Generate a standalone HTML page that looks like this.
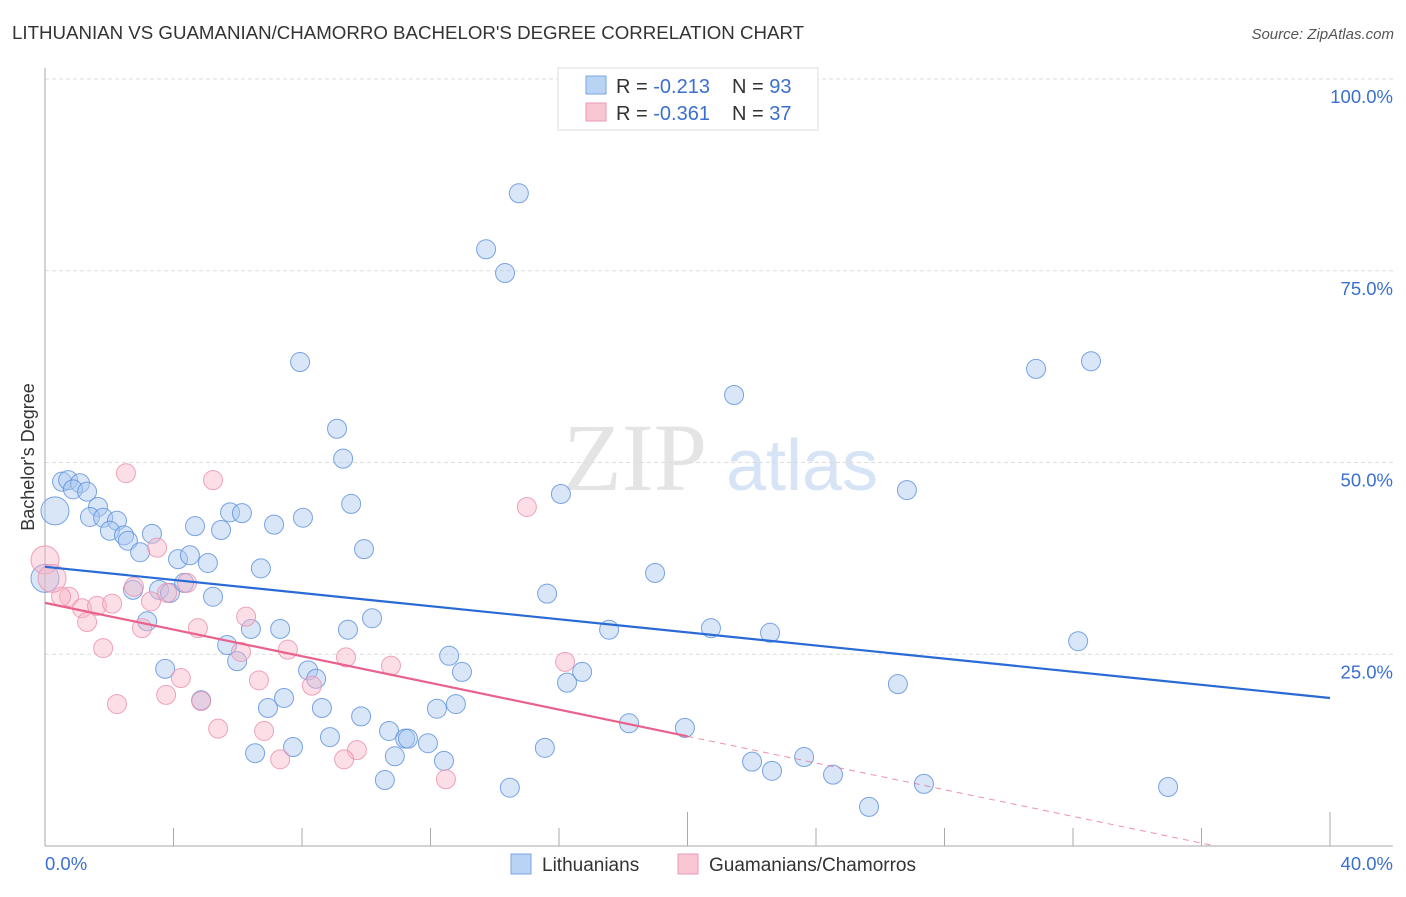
<!DOCTYPE html>
<html><head><meta charset="utf-8"><style>
body{margin:0;background:#fff;font-family:"Liberation Sans",sans-serif;}
svg text{font-family:"Liberation Sans",sans-serif;}
</style></head><body>
<svg id="chart" width="1406" height="892" xmlns="http://www.w3.org/2000/svg">
<text x="12" y="39" font-size="18.7" fill="#333">LITHUANIAN VS GUAMANIAN/CHAMORRO BACHELOR'S DEGREE CORRELATION CHART</text>
<text x="1394" y="39" font-size="15" fill="#555" font-style="italic" text-anchor="end">Source: ZipAtlas.com</text>
<text transform="translate(34,457) rotate(-90)" font-size="18" fill="#333" text-anchor="middle">Bachelor's Degree</text>
<g>
<text x="635" y="490" font-size="96" fill="#e4e4e4" font-family="Liberation Serif" text-anchor="middle" style="font-family:'Liberation Serif',serif">ZIP</text>
<text x="802" y="490" font-size="72" fill="#d6e4f5" text-anchor="middle">atlas</text>
</g>
<g id="grid"></g>
<g id="axes"></g>
<g id="pts"></g>
<g id="trend"></g>
<g>
<rect x="558" y="68" width="260" height="62" fill="#fff" stroke="#ddd"/>
<rect x="586" y="76" width="20" height="18" fill="#b9d3f5" stroke="#7aa5e0"/>
<text x="616" y="93" font-size="20" fill="#333">R = <tspan fill="#3a6fd0">-0.213</tspan></text>
<text x="732" y="93" font-size="20" fill="#333">N = <tspan fill="#3a6fd0">93</tspan></text>
<rect x="586" y="103" width="20" height="18" fill="#f9c6d4" stroke="#ee9ab2"/>
<text x="616" y="120" font-size="20" fill="#333">R = <tspan fill="#3a6fd0">-0.361</tspan></text>
<text x="732" y="120" font-size="20" fill="#333">N = <tspan fill="#3a6fd0">37</tspan></text>
</g>
<g>
<rect x="511" y="854" width="20" height="20" fill="#b9d3f5" stroke="#7aa5e0"/>
<text x="542" y="871" font-size="19" fill="#333">Lithuanians</text>
<rect x="678" y="854" width="20" height="20" fill="#f9c6d4" stroke="#ee9ab2"/>
<text x="709" y="871" font-size="19" fill="#333">Guamanians/Chamorros</text>
</g>
</svg>
<script>
const blueX=[14.75,13.73,14.32,7.94,32.56,30.85,21.45,9.09,9.28,16.06,26.83,9.53,0.53,0.72,1.09,0.87,1.31,0.31,1.65,1.40,1.81,2.24,2.02,2.46,2.58,2.96,3.33,4.67,5.48,5.76,6.13,7.13,8.03,9.93,4.14,4.51,5.07,6.72,18.99,15.63,2.74,3.55,3.89,4.33,5.23,10.18,3.18,6.41,7.32,9.43,17.56,20.73,22.57,32.16,5.67,5.98,3.74,8.19,8.44,12.58,12.98,16.72,16.25,26.55,4.86,7.44,6.94,8.62,12.79,12.20,9.84,18.18,19.92,10.71,11.21,11.30,11.92,8.87,7.72,6.54,15.56,12.42,10.89,23.63,22.01,22.63,24.53,10.58,27.36,34.96,14.47,25.65,0];
const blueY=[85.1,77.8,74.7,63.1,63.2,62.2,58.8,54.4,50.5,45.9,46.4,44.6,47.5,47.7,47.3,46.5,46.2,43.7,44.2,42.9,42.8,42.4,41.1,40.5,39.8,38.3,40.7,41.7,41.2,43.5,43.4,41.9,42.8,38.7,37.4,37.9,36.9,36.2,35.6,32.9,33.4,33.4,33.0,34.3,32.5,29.7,29.3,28.3,28.3,28.2,28.2,28.4,27.8,26.7,26.2,24.1,23.1,22.9,21.8,24.8,22.7,22.7,21.3,21.1,19.0,19.3,18.0,18.0,18.5,17.9,16.9,16.0,15.4,15.0,14.0,14.0,13.4,14.2,12.9,12.1,12.8,11.1,11.7,11.6,11.0,9.8,9.3,8.6,8.1,7.7,7.6,5.1,34.9];
const blueBig=[17,92];
const pinkX=[2.52,5.23,15.0,0,3.49,2.77,4.42,0.75,0.5,1.15,1.62,2.09,3.30,3.80,1.31,3.02,6.26,4.76,1.81,6.10,7.56,9.37,10.77,16.19,4.23,6.66,8.31,3.77,4.86,2.24,5.39,6.82,9.71,7.32,9.31,12.48,0.22];
const pinkY=[48.6,47.7,44.2,37.3,38.9,33.8,34.3,32.5,32.5,31.0,31.3,31.6,31.9,33.0,29.2,28.4,29.9,28.4,25.8,25.3,25.6,24.6,23.5,24.0,21.9,21.6,20.9,19.7,18.9,18.5,15.3,15.0,12.5,11.3,11.3,8.7,34.9];
const pinkBig=[3,36];
const blueTrend=[36.4,19.3];
const pinkTrend=[31.7,-0.87];
const yTicks=[25,50,75,100];
const yTickLabels=["25.0%","50.0%","75.0%","100.0%"];
const xTicks=[0,4,8,12,16,20,24,28,32,36,40];
const xEndLabels=["0.0%","40.0%"];

const NS="http://www.w3.org/2000/svg";
const X0=45,X1=1330,Y0=846,Y100=79;
function sx(v){return X0+(X1-X0)*v/40;}
function sy(v){return Y0-(Y0-Y100)*v/100;}
function mk(tag,attrs,parent){const e=document.createElementNS(NS,tag);for(const k in attrs)e.setAttribute(k,attrs[k]);parent.appendChild(e);return e;}
const grid=document.getElementById('grid'),axes=document.getElementById('axes'),pts=document.getElementById('pts'),trend=document.getElementById('trend');
yTicks.forEach((t,i)=>{
  const l=mk('line',{x1:X0,x2:1393,y1:sy(t),y2:sy(t),stroke:'#ddd','stroke-dasharray':'4,3'},grid);
  
  
  const tx=mk('text',{x:1393,y:sy(t)+24,'font-size':18.5,fill:'#3a6fd0','text-anchor':'end'},grid);
  tx.textContent=yTickLabels[i];
  
  
});
const ya=mk('line',{x1:X0,x2:X0,y1:68,y2:Y0,stroke:'#aaa'},axes);


const xa=mk('line',{x1:X0,x2:1393,y1:Y0,y2:Y0,stroke:'#aaa'},axes);


xTicks.forEach((t,i)=>{
  const long=(t===20||t===40);
  const l=mk('line',{x1:sx(t),x2:sx(t),y1:long?812:828,y2:Y0,stroke:'#aaa'},axes);
  
  
});
[[0,'start',45],[40,'end',1393]].forEach((a,i)=>{
  const tx=mk('text',{x:a[2],y:870,'font-size':18.5,fill:'#3a6fd0','text-anchor':a[1]},axes);
  tx.textContent=xEndLabels[i];
  
  
});
function drawPts(xs,ys,big,fill,stroke,name){
  xs.forEach((x,i)=>{
    const r=big.includes(i)?14:9.5;
    const c=mk('circle',{cx:sx(x),cy:sy(ys[i]),r:r,fill:fill,'fill-opacity':0.45,stroke:stroke,'stroke-opacity':0.8,'stroke-width':1},pts);
    
    
  });
}
drawPts(blueX,blueY,blueBig,'#a9c8f0','#5b8fdc','lithuanian-point');
drawPts(pinkX,pinkY,pinkBig,'#f6b6c8','#ec8fab','guamanian-point');
const bt=mk('line',{x1:sx(0),y1:sy(blueTrend[0]),x2:sx(40),y2:sy(blueTrend[1]),stroke:'#2a6ad6','stroke-width':2.2},trend);


const pEndSolid=20,pEnd=-pinkTrend[0]/pinkTrend[1];
const pt=mk('line',{x1:sx(0),y1:sy(pinkTrend[0]),x2:sx(pEndSolid),y2:sy(pinkTrend[0]+pinkTrend[1]*pEndSolid),stroke:'#e8628c','stroke-width':2.2},trend);


const pd=mk('line',{x1:sx(pEndSolid),y1:sy(pinkTrend[0]+pinkTrend[1]*pEndSolid),x2:sx(pEnd),y2:sy(0),stroke:'#e8628c','stroke-width':1,'stroke-dasharray':'6,5','stroke-opacity':0.7},trend);


</script>
</body></html>
